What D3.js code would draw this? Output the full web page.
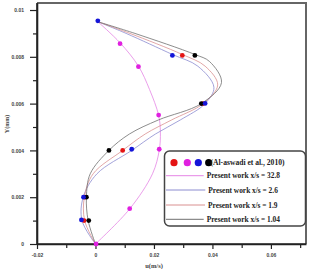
<!DOCTYPE html>
<html><head><meta charset="utf-8">
<script src="https://cdn.jsdelivr.net/npm/d3@7"></script>
<style>body{margin:0;background:#fff}svg{display:block}</style>
</head><body>
<svg id="c" width="309" height="269"></svg>
<script>
// ---- data ----
const xTicks = [-0.02, 0, 0.02, 0.04, 0.06];
const xTickLabels = ["-0.02", "0", "0.02", "0.04", "0.06"];
const xMinor = [-0.01, 0.01, 0.03, 0.05, 0.07];
const yTicks = [0, 0.002, 0.004, 0.006, 0.008, 0.01];
const yTickLabels = ["0", "0.002", "0.004", "0.006", "0.008", "0.01"];
const yMinor = [0.001, 0.003, 0.005, 0.007, 0.009];

// present work curves (u in m/s, Y)
const y104 = [0, 0.001, 0.002, 0.003, 0.004, 0.0047, 0.0053, 0.006, 0.0069, 0.0078, 0.0081, 0.009, 0.0095];
const u104 = [0, -0.0025, -0.0031, -0.0018, 0.0046, 0.0116, 0.0215, 0.0362, 0.0431, 0.039, 0.034, 0.0135, 0.0008];
const y19 = [0, 0.001, 0.002, 0.003, 0.004, 0.0047, 0.0053, 0.006, 0.0068, 0.0076, 0.0081, 0.009, 0.0095];
const u19 = [0, -0.0037, -0.0038, -0.0008, 0.0093, 0.017, 0.026, 0.0368, 0.0418, 0.0375, 0.0297, 0.0118, 0.0008];
const y26 = [0, 0.001, 0.002, 0.003, 0.004, 0.0047, 0.0053, 0.006, 0.0067, 0.0076, 0.0081, 0.009, 0.0095];
const u26 = [0, -0.0046, -0.0042, 0.0005, 0.0124, 0.0205, 0.029, 0.0375, 0.0405, 0.035, 0.0263, 0.0105, 0.0008];
const y328 = [0, 0.0015, 0.003, 0.004, 0.0048, 0.0055, 0.0066, 0.0076, 0.0086, 0.0095];
const u328 = [0, 0.0117, 0.0195, 0.0218, 0.0222, 0.0216, 0.0185, 0.0147, 0.0084, 0.0008];

// experimental points (Al-aswadi et al., 2010)
const expRedY = [0.001, 0.002, 0.004, 0.006, 0.00806];
const expRedU = [-0.0039, -0.0037, 0.0093, 0.0368, 0.0297];
const expMagY = [0, 0.00151, 0.00405, 0.00551, 0.00758, 0.00856];
const expMagU = [0.0002, 0.0117, 0.0218, 0.0216, 0.0147, 0.0084];
const expBlackY = [0.001, 0.002, 0.004, 0.006, 0.00806];
const expBlackU = [-0.0023, -0.0031, 0.0046, 0.0362, 0.034];
const expBlueY = [0.00103, 0.002, 0.00405, 0.00601, 0.00806, 0.00954];
const expBlueU = [-0.0048, -0.0041, 0.0124, 0.0375, 0.0263, 0.0008];

const legendLabels = ["(Al-aswadi et al., 2010)", "Present work x/s = 32.8", "Present work x/s = 2.6", "Present work x/s = 1.9", "Present work x/s = 1.04"];

// ---- drawing ----
const svg = d3.select("#c");
const x = d3.scaleLinear().domain([-0.02, 0.072]).range([37, 306]);
const y = d3.scaleLinear().domain([0, 0.0103]).range([244, 3]);

const cMag = "#e585e5", cBlue = "#8c8cd0", cRed = "#d99090", cGray = "#707070";
const dMag = "#e020e0", dBlue = "#1414d8", dRed = "#e41414", dBlack = "#000";

// frame
svg.append("path").attr("d", `M37,3H306V244`).attr("fill", "none").attr("stroke", "#666").attr("stroke-width", 2);

// axes
const yAxis = d3.axisLeft(y).tickValues(yTicks).tickFormat((d, i) => yTickLabels[i]).tickSize(7).tickSizeOuter(0);
const gy = svg.append("g").attr("transform", "translate(37,0)").call(yAxis);
gy.selectAll("text").attr("font-size", 5).attr("font-family", "Liberation Sans, Arial, sans-serif").attr("font-weight", "bold").attr("fill", "#444").attr("dx", "-3");
svg.append("g").attr("transform", "translate(37,0)").call(d3.axisLeft(y).tickValues(yMinor).tickFormat("").tickSize(4).tickSizeOuter(0)).select(".domain").remove();

const xAxis = d3.axisBottom(x).tickValues(xTicks).tickFormat((d, i) => xTickLabels[i]).tickSize(5).tickSizeOuter(0);
const gx = svg.append("g").attr("transform", "translate(0,244)").call(xAxis);
gx.selectAll("text").attr("font-size", 5).attr("font-family", "Liberation Sans, Arial, sans-serif").attr("font-weight", "bold").attr("fill", "#444").attr("dy", "0.9em");
svg.append("g").attr("transform", "translate(0,244)").call(d3.axisBottom(x).tickValues(xMinor).tickFormat("").tickSize(4).tickSizeOuter(0)).select(".domain").remove();
svg.selectAll(".domain").attr("stroke", "#222").attr("stroke-width", 1.6);
svg.selectAll(".tick line").attr("stroke", "#222").attr("stroke-width", 1.2);
svg.append("line").attr("x1", 37).attr("x2", 306).attr("y1", 244).attr("y2", 244).attr("stroke", "#222").attr("stroke-width", 1.6);
svg.append("line").attr("x1", 37).attr("x2", 37).attr("y1", 3).attr("y2", 244).attr("stroke", "#222").attr("stroke-width", 1.6);

// axis titles
svg.append("text").attr("transform", "translate(9,124) rotate(-90)").attr("text-anchor", "middle")
  .attr("font-family", "Liberation Serif, Times New Roman, serif").attr("font-size", 6).attr("font-weight", "bold").attr("fill", "#444").text("Y(mm)");
svg.append("text").attr("x", 154).attr("y", 268).attr("text-anchor", "middle")
  .attr("font-family", "Liberation Serif, Times New Roman, serif").attr("font-size", 6.5).attr("font-weight", "bold").attr("fill", "#444").text("u(m/s)");

// curves
const line = d3.line().x(d => x(d[0])).y(d => y(d[1])).curve(d3.curveCatmullRom.alpha(0.5));
const curves = [
  [u328, y328, cMag], [u26, y26, cBlue], [u19, y19, cRed], [u104, y104, cGray]
];
curves.forEach(([u, yy, col]) => {
  svg.append("path").attr("d", line(u.map((v, i) => [v, yy[i]]))).attr("fill", "none").attr("stroke", col).attr("stroke-width", 0.8);
});

// experimental points
const pts = [[expRedU, expRedY, dRed], [expBlackU, expBlackY, dBlack], [expBlueU, expBlueY, dBlue], [expMagU, expMagY, dMag]];
pts.forEach(([u, yy, col]) => {
  svg.append("g").selectAll("circle").data(u.map((v, i) => [v, yy[i]])).join("circle")
    .attr("cx", d => x(d[0])).attr("cy", d => y(d[1])).attr("r", 2.4).attr("fill", col);
});

// legend
const lg = svg.append("g");
lg.append("rect").attr("x", 164.5).attr("y", 151).attr("width", 141).attr("height", 75).attr("rx", 5)
  .attr("fill", "#fff").attr("stroke", "#444").attr("stroke-width", 1.5);
[dRed, dMag, dBlue, dBlack].forEach((c, i) => {
  lg.append("circle").attr("cx", [174, 187.3, 198.3, 208.7][i]).attr("cy", 162.7).attr("r", 3.6).attr("fill", c);
});
const tf = "Liberation Serif, Times New Roman, serif";
lg.append("text").attr("x", 210.5).attr("y", 165.3).attr("font-family", tf).attr("font-size", 7.6).attr("font-weight", "bold").attr("fill", "#222").text(legendLabels[0]);
const rows = [[175.7, cMag, 206.7], [190, cBlue, 208.3], [205, cRed, 208], [219.3, cGray, 206.7]];
rows.forEach(([ry, col, tx], i) => {
  lg.append("line").attr("x1", 166).attr("x2", tx - 3).attr("y1", ry).attr("y2", ry).attr("stroke", col).attr("stroke-width", 1);
  lg.append("text").attr("x", tx).attr("y", ry + 2.6).attr("font-family", tf).attr("font-size", 7.4).attr("font-weight", "bold").attr("fill", "#222").text(legendLabels[i + 1]);
});
</script>
</body></html>
